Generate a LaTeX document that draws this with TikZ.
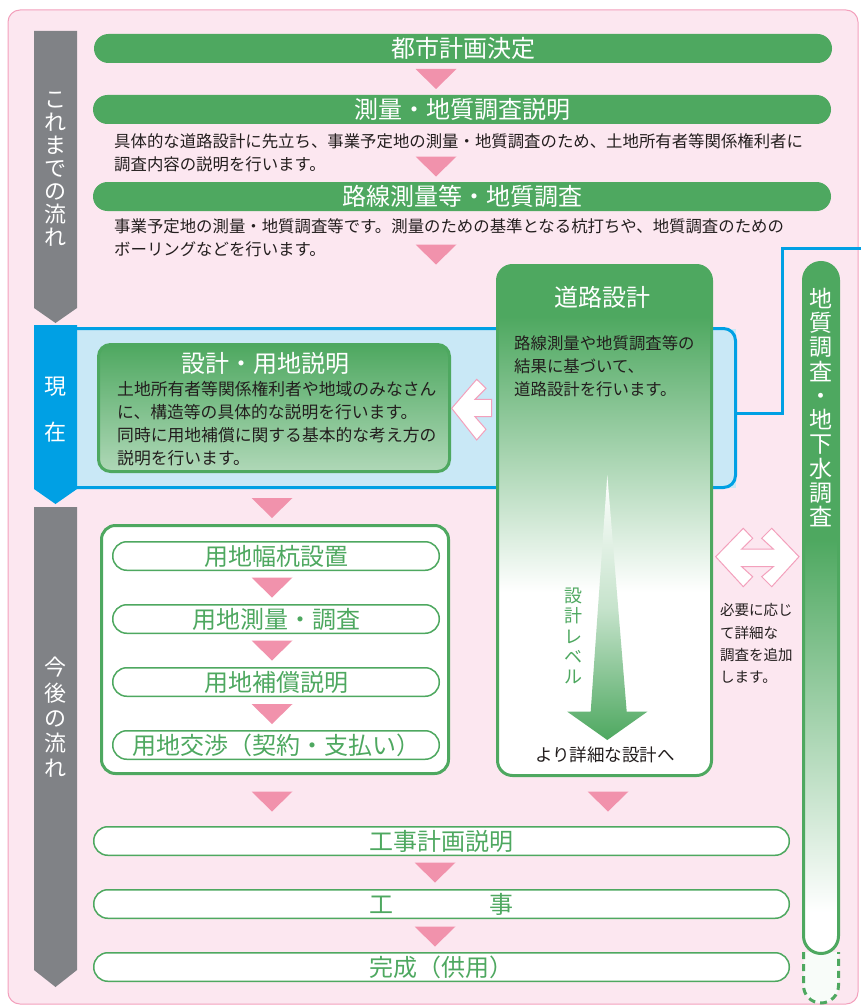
\documentclass[tikz,border=0pt]{standalone}
\usepackage{fontspec}
\setmainfont{Noto Sans CJK JP}
\definecolor{G}{RGB}{78,168,96}
\definecolor{pinkbg}{RGB}{252,231,240}
\definecolor{pinkln}{RGB}{243,160,188}
\definecolor{tri}{RGB}{241,146,172}
\definecolor{grayc}{RGB}{128,130,134}
\definecolor{blueC}{RGB}{0,160,228}
\definecolor{lblue}{RGB}{201,232,246}
\definecolor{txt}{RGB}{35,30,30}
\colorlet{Gmid}{G!32!white}
\colorlet{Glow}{G!45!white}
\colorlet{dashfill}{G!4!white}
\pgfdeclareverticalshading{roadsh}{100bp}{color(0bp)=(white); color(43bp)=(white); color(70bp)=(G); color(100bp)=(G)}
\pgfdeclareverticalshading{colsh}{100bp}{color(0bp)=(white); color(28bp)=(white); color(55bp)=(G); color(100bp)=(G)}
\pgfdeclareverticalshading{arrsh}{100bp}{color(0bp)=(G); color(25bp)=(G); color(50bp)=(Gmid); color(75bp)=(white); color(100bp)=(white)}
\tikzset{
  gbar/.style={fill=G, rounded corners=14.5pt, minimum width=738pt, minimum height=29pt, inner sep=0pt, text=white, font=\fontsize{24}{28}\selectfont},
  wbar/.style={draw=G, line width=1.5pt, fill=white, rounded corners=14pt, minimum height=28.5pt, inner sep=0pt, text=G, font=\fontsize{24}{28}\selectfont},
  desc/.style={anchor=west, align=left, inner sep=0pt, text=txt, font=\fontsize{16.4}{23}\selectfont},
  vtxt/.style={align=center, inner sep=0pt, text=white},
  hollow/.style={draw=pinkln, fill=white, line width=1pt, line join=miter},
  tridown/.pic={\fill[tri] (-20.5,-10) -- (20.5,-10) -- (0,10) -- cycle;},
}
\begin{document}
\begin{tikzpicture}[x=1pt, y=-1pt]
\useasboundingbox (0,0) rectangle (860,1006);
% background
\draw[pinkln, fill=pinkbg, line width=1pt, rounded corners=12pt] (8,10) rectangle (858,1004);

% blue band
\path[fill=lblue] (60,328.5) -- (735.5,328.5) -- (735.5,487.5) -- (60,487.5) -- cycle;
\draw[blueC, line width=3pt, rounded corners=12pt] (60,328.5) -- (735.5,328.5) -- (735.5,487.5) -- (60,487.5);
\coordinate (bandE) at (735.5,413);
\coordinate (bend) at (782,248);
\coordinate (offR) at (862,248);
\draw[blueC, line width=3pt] (bandE) -| (bend) -- (offR);

% left columns
\fill[grayc] (34,31) -- (77,31) -- (77,308) -- (55.5,323) -- (34,308) -- cycle;
\fill[blueC] (34,325) -- (77,325) -- (77,489) -- (55.5,504) -- (34,489) -- cycle;
\fill[grayc] (34,507) -- (77,507) -- (77,970) -- (55.5,987) -- (34,970) -- cycle;
\node[vtxt, font=\fontsize{22}{23}\selectfont] (past) at (55.5,169) {こ\\れ\\ま\\で\\の\\流\\れ};
\node[vtxt, font=\fontsize{22}{46}\selectfont] (now) at (55.5,410) {現\\在};
\node[vtxt, font=\fontsize{22}{25.2}\selectfont] (future) at (55.5,717.5) {今\\後\\の\\流\\れ};

% top bars
\node[gbar] (b1) at (463,48.5) {都市計画決定};
\node[gbar] (b2) at (462,109.5) {測量・地質調査説明};
\node[desc] (d2) at (114,153) {具体的な道路設計に先立ち、事業予定地の測量・地質調査のため、土地所有者等関係権利者に\\調査内容の説明を行います。};
\node[gbar] (b3) at (462,196.5) {路線測量等・地質調査};
\node[desc] (d3) at (114,237.5) {事業予定地の測量・地質調査等です。測量のための基準となる杭打ちや、地質調査のための\\ボーリングなどを行います。};

\pic at (436,79) {tridown};
\pic at (436,166.5) {tridown};
\pic at (436,254.5) {tridown};

% left design box
\node[draw=G, line width=3pt, top color=G, bottom color=Glow, rounded corners=12pt, minimum width=351pt, minimum height=127pt, inner sep=0pt] (sekkei) at (274,408) {};
\node[text=white, inner sep=0pt, font=\fontsize{24}{28}\selectfont] (sekkeiT) at (265,363) {設計・用地説明};
\node[desc, font=\fontsize{16.8}{23}\selectfont] (sekkeiD) at (117,423.5) {土地所有者等関係権利者や地域のみなさん\\に、構造等の具体的な説明を行います。\\同時に用地補償に関する基本的な考え方の\\説明を行います。};

% road design box
\node[draw=G, line width=3pt, shade, shading=roadsh, rounded corners=15pt, minimum width=214pt, minimum height=510pt, inner sep=0pt] (road) at (604.5,520.5) {};
\node[text=white, inner sep=0pt, font=\fontsize{24}{28}\selectfont] (roadT) at (602.5,297) {道路設計};
\node[desc] (roadD) at (514,366.5) {路線測量や地質調査等の\\結果に基づいて、\\道路設計を行います。};
\shade[shading=arrsh] (607.3,475) -- (626.7,711.7) -- (647.3,711.7) -- (607.3,740) -- (567.3,711.7) -- (590.7,711.7) -- cycle;
\node[align=center, inner sep=0pt, text=G, font=\fontsize{18}{20.4}\selectfont] (level) at (573.5,636) {設\\計\\レ\\ベ\\ル};
\node[inner sep=0pt, text=txt, font=\fontsize{17.5}{20}\selectfont] (detail) at (605,755) {より詳細な設計へ};

% hollow left arrow
\draw[hollow] (451.7,408.3) -- (476.7,379.3) -- (486,388.3) -- (475,399.3) -- (491.7,399.3) -- (491.7,416.7) -- (475,416.7) -- (486,429.3) -- (476.7,440) -- cycle;

% land group
\pic at (272,508) {tridown};
\node[draw=G, line width=3pt, fill=white, rounded corners=14pt, minimum width=347pt, minimum height=248pt, inner sep=0pt] (grp) at (275,649.5) {};
\node[wbar, minimum width=326.5pt] (l1) at (276,556) {用地幅杭設置};
\node[wbar, minimum width=326.5pt] (l2) at (276,619) {用地測量・調査};
\node[wbar, minimum width=326.5pt] (l3) at (276,682) {用地補償説明};
\node[wbar, minimum width=326.5pt] (l4) at (276,745) {用地交渉（契約・支払い）};
\pic at (272,587.5) {tridown};
\pic at (272,650.5) {tridown};
\pic at (272,714) {tridown};

% right column
\draw[G, line width=3pt, dash pattern=on 7pt off 5pt, fill=dashfill, rounded corners=17.5pt] (803.5,952) -- (803.5,1003) -- (838.5,1003) -- (838.5,952);
\node[draw=G, line width=3pt, shade, shading=colsh, rounded corners=17.5pt, minimum width=35pt, minimum height=691pt, inner sep=0pt] (geo) at (821,608) {};
\node[vtxt, font=\fontsize{23}{24.3}\selectfont] (geoT) at (821,407.5) {地\\質\\調\\査\\・\\地\\下\\水\\調\\査};

% double hollow arrow
\draw[hollow] (715.7,556.7) -- (743.3,528.3) -- (752.7,538.3) -- (741.7,549) -- (773.3,549) -- (761.7,538.3) -- (771.7,528.3) -- (799,556.7) -- (771.7,586.7) -- (761.7,576.7) -- (773.3,566.7) -- (741.7,566.7) -- (752.7,576.7) -- (743.3,586.7) -- cycle;
\node[desc, font=\fontsize{14.5}{22.3}\selectfont] (need) at (720,643.5) {必要に応じ\\て詳細な\\調査を追加\\します。};

% lower flow
\pic at (272,801.5) {tridown};
\pic at (608,801.5) {tridown};
\node[wbar, minimum width=695.5pt] (c1) at (441.5,841) {工事計画説明};
\node[wbar, minimum width=695.5pt] (c2) at (441.5,904) {工　　　　事};
\node[wbar, minimum width=695.5pt] (c3) at (441.5,967) {完成（供用）};
\pic at (435,872.5) {tridown};
\pic at (435,936.5) {tridown};
\end{tikzpicture}
\end{document}
